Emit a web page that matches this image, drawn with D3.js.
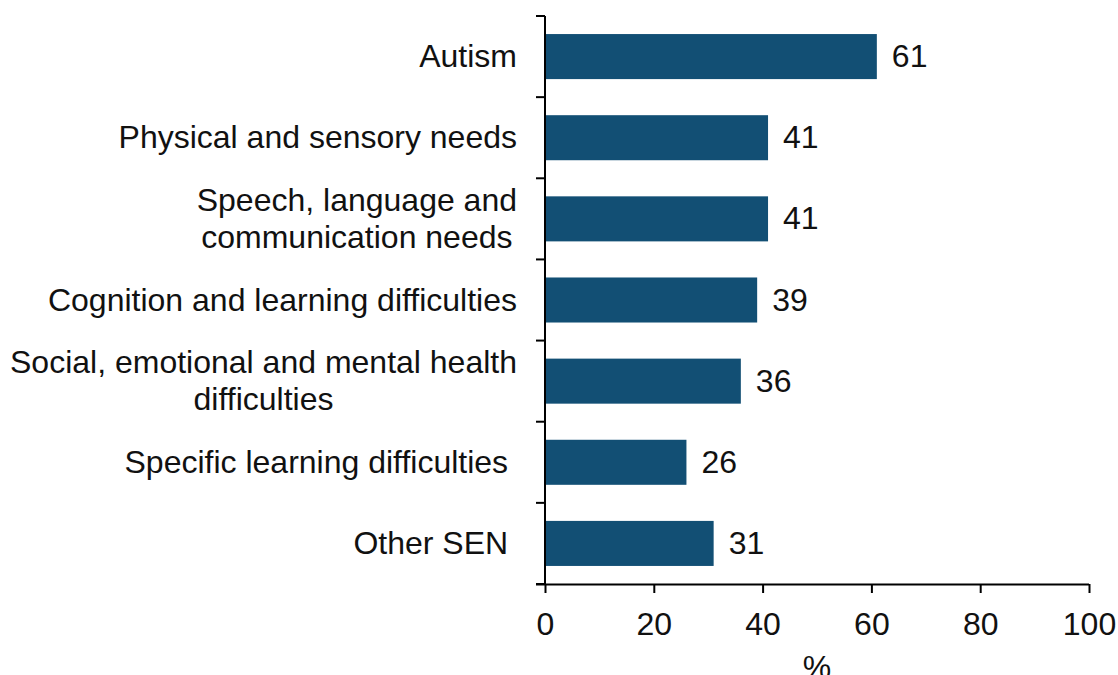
<!DOCTYPE html>
<html>
<head>
<meta charset="utf-8">
<script src="https://cdn.jsdelivr.net/npm/d3@7"></script>
<style>
  html, body { margin: 0; padding: 0; background: #ffffff; }
  svg { display: block; font-family: "Liberation Sans", Arial, sans-serif; }
  text { white-space: pre; }
</style>
</head>
<body>
<svg id="chart" width="1118" height="675"></svg>
<script>
// Share of pupils (%) by type of special educational need
const categories = [
  ["Autism"],
  ["Physical and sensory needs"],
  ["Speech, language and", "communication needs"],
  ["Cognition and learning difficulties"],
  ["Social, emotional and mental health", "difficulties"],
  ["Specific learning difficulties "],
  ["Other SEN "]
];
const values = [61, 41, 41, 39, 36, 26, 31];
const xTicks = [0, 20, 40, 60, 80, 100];
const xTitle = "%";

const svg = d3.select("#chart");
const fontSize = 32;
const plotLeft = 545, plotRight = 1089, plotTop = 16, plotBottom = 584;
const barColor = "#124f74";

const keys = categories.map(c => c.join(" "));
const x = d3.scaleLinear().domain([0, 100]).range([plotLeft, plotRight]);
const y = d3.scaleBand().domain(keys).range([plotTop, plotBottom])
  .paddingInner(0.445).paddingOuter(0.2225);

// Bars
svg.append("g").selectAll("rect")
  .data(values)
  .join("rect")
  .attr("x", x(0))
  .attr("y", (d, i) => y(keys[i]))
  .attr("width", d => x(d) - x(0))
  .attr("height", y.bandwidth())
  .attr("fill", barColor);

// Value labels
svg.append("g").selectAll("text")
  .data(values)
  .join("text")
  .attr("x", d => x(d) + 15)
  .attr("y", (d, i) => y(keys[i]) + y.bandwidth() / 2)
  .attr("dy", "0.33em")
  .attr("font-size", fontSize)
  .attr("fill", "#111")
  .text(d => d);

// X axis
const xAxis = svg.append("g")
  .attr("transform", `translate(0,${plotBottom})`)
  .call(d3.axisBottom(x).tickValues(xTicks).tickSize(9).tickPadding(19).tickSizeOuter(0));
xAxis.select(".domain").attr("d", `M${plotLeft - 9},0.5H${plotRight}`);
xAxis.selectAll("path, line").attr("stroke", "#000").attr("stroke-width", 2);
xAxis.selectAll("text")
  .attr("font-size", fontSize)
  .attr("font-family", "Liberation Sans, Arial, sans-serif")
  .attr("fill", "#111");

// Y axis line with ticks on category boundaries
const gap = y.step() - y.bandwidth();
const boundaries = keys.map(k => y(k) - gap / 2).concat([plotBottom]);
const yAxis = svg.append("g");
yAxis.append("line")
  .attr("x1", plotLeft).attr("x2", plotLeft)
  .attr("y1", plotTop).attr("y2", plotBottom)
  .attr("stroke", "#000").attr("stroke-width", 2);
yAxis.selectAll("line.tick")
  .data(boundaries)
  .join("line")
  .attr("class", "tick")
  .attr("x1", plotLeft - 9).attr("x2", plotLeft)
  .attr("y1", d => d).attr("y2", d => d)
  .attr("stroke", "#000").attr("stroke-width", 2);

// Category labels: block right-aligned, lines centred within the block
const labelRight = 517;
const lineHeight = 37;
const labels = svg.append("g").attr("font-size", fontSize).attr("fill", "#111");
categories.forEach((lines, i) => {
  const cy = y(keys[i]) + y.bandwidth() / 2;
  const t = labels.append("text").attr("text-anchor", "middle");
  const spans = lines.map((ln, j) =>
    t.append("tspan").text(ln)
      .attr("y", cy + (j - (lines.length - 1) / 2) * lineHeight)
      .attr("dy", "0.33em"));
  const widths = spans.map(s => s.node().getComputedTextLength());
  const w = d3.max(widths);
  spans.forEach(s => s.attr("x", labelRight - w / 2));
});

// Axis title
svg.append("text")
  .attr("x", (plotLeft + plotRight) / 2)
  .attr("y", 678)
  .attr("text-anchor", "middle")
  .attr("font-size", fontSize)
  .attr("fill", "#111")
  .text(xTitle);
</script>
</body>
</html>
